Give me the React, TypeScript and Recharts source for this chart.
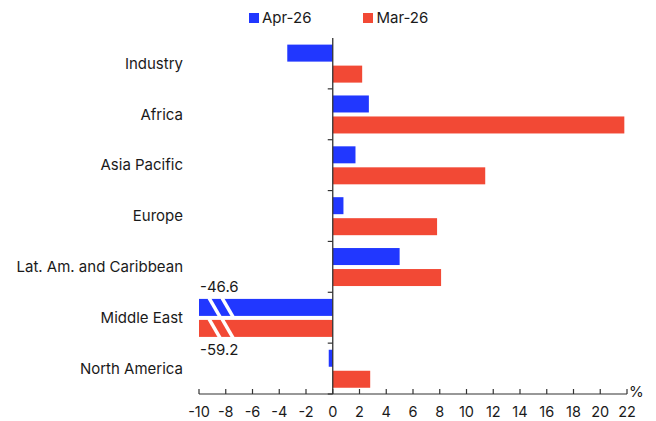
import React from 'react';
import { BarChart, Bar, XAxis, YAxis, Legend, ReferenceLine } from 'recharts';

const categories = ['Industry', 'Africa', 'Asia Pacific', 'Europe', 'Lat. Am. and Caribbean', 'Middle East', 'North America'];
const apr26 = [-3.4, 2.7, 1.7, 0.8, 5.0, -46.6, -0.3];
const mar26 = [2.2, 21.8, 11.4, 7.8, 8.1, -59.2, 2.8];
const xTicks = [-10, -8, -6, -4, -2, 0, 2, 4, 6, 8, 10, 12, 14, 16, 18, 20, 22];
const xDomain = [-10, 22];
const seriesNames = ['Apr-26', 'Mar-26'];

const BLUE = '#2137FF';
const RED = '#F24935';
const TEXT = '#1a1a1a';
const AXIS = '#333333';
const FONT = 'Inter, "Liberation Sans", Arial, sans-serif';
const FS = 15;

const data = categories.map((name, i) => ({ name, apr: apr26[i], mar: mar26[i] }));

const makeShape = (fill: string, labelAbove: boolean) => (props: any) => {
  const { x, y, width, height, background, value } = props;
  const raw = Array.isArray(value) ? value[1] : value;
  const a = Math.min(x, x + width);
  const b = Math.max(x, x + width);
  const plotLeft = background ? background.x : 199;
  const plotRight = background ? background.x + background.width : 627;
  const left = Math.max(a, plotLeft);
  const right = Math.min(b, plotRight);
  const clipped = a < plotLeft - 0.5;
  const top = y;
  const bot = y + height;
  return (
    <g>
      <rect x={left} y={top} width={Math.max(0, right - left)} height={height} fill={fill} />
      {clipped && (
        <g>
          <line x1={left + 10} y1={top - 1} x2={left + 21} y2={bot + 1} stroke="#fff" strokeWidth={3.5} />
          <line x1={left + 23} y1={top - 1} x2={left + 34} y2={bot + 1} stroke="#fff" strokeWidth={3.5} />
          <text
            x={left + 1}
            y={labelAbove ? top - 7 : bot + 18}
            fontSize={FS}
            fill={TEXT}
            fontFamily={FONT}
          >
            {String(raw)}
          </text>
        </g>
      )}
    </g>
  );
};

const ZeroAxis = (props: any) => {
  const { x1, y1, y2 } = props;
  const n = categories.length;
  const step = (y2 - y1) / n;
  const ticks = [];
  for (let i = 0; i < n; i++) {
    const yy = y1 + i * step;
    ticks.push(<line key={i} x1={x1 - 5} y1={yy} x2={x1} y2={yy} stroke={AXIS} strokeWidth={1.2} />);
  }
  return (
    <g>
      <line x1={x1} y1={y1} x2={x1} y2={y2} stroke={AXIS} strokeWidth={1.3} />
      {ticks}
    </g>
  );
};

const XTick = (props: any) => {
  const { x, y, payload } = props;
  return (
    <g>
      <line x1={x} y1={y} x2={x} y2={y - 5} stroke={AXIS} strokeWidth={1.2} />
      <text x={x} y={y + 23} textAnchor="middle" fontSize={14.5} fill={TEXT} fontFamily={FONT}>
        {payload.value}
      </text>
    </g>
  );
};

const LegendContent = () => {
  const colors = [BLUE, RED];
  return (
    <div style={{ display: 'flex', alignItems: 'center', fontFamily: FONT, fontSize: FS, color: TEXT }}>
      {seriesNames.map((s, i) => (
        <div key={s} style={{ display: 'flex', alignItems: 'center', marginRight: i === 0 ? 52 : 0 }}>
          <span style={{ width: 10, height: 10, background: colors[i], display: 'inline-block', marginRight: 3 }} />
          <span>{s}</span>
        </div>
      ))}
    </div>
  );
};

export default function App() {
  return (
    <div style={{ position: 'absolute', left: 0, top: 0, width: 656, height: 421, background: '#fff' }}>
      <BarChart
        width={656}
        height={421}
        data={data}
        layout="vertical"
        margin={{ top: 38, right: 29, bottom: 0, left: 0 }}
        barCategoryGap="13%"
        barGap={4}
        style={{ fontFamily: FONT }}
      >
        <XAxis
          type="number"
          domain={xDomain}
          allowDataOverflow
          ticks={xTicks}
          interval={0}
          height={27}
          tickSize={0}
          tickMargin={0}
          tickLine={false}
          axisLine={{ stroke: AXIS, strokeWidth: 1.2 }}
          tick={<XTick />}
          label={{
            content: (p: any) => {
              const vb = p.viewBox;
              return (
                <text x={vb.x + vb.width + 2} y={vb.y + 3} fontSize={FS} fill={TEXT} fontFamily={FONT}>
                  %
                </text>
              );
            },
          }}
        />
        <YAxis
          type="category"
          dataKey="name"
          width={199}
          tickLine={false}
          axisLine={false}
          tickSize={0}
          tickMargin={16}
          interval={0}
          tick={{ fontSize: FS, fill: TEXT, fontFamily: FONT }}
        />
        <Legend verticalAlign="middle" align="center" layout="horizontal" wrapperStyle={{ top: 8, left: 249, width: 260 }} content={<LegendContent />} />
        <Bar dataKey="apr" name={seriesNames[0]} fill={BLUE} isAnimationActive={false} shape={makeShape(BLUE, true)} />
        <Bar dataKey="mar" name={seriesNames[1]} fill={RED} isAnimationActive={false} shape={makeShape(RED, false)} />
        <ReferenceLine x={0} shape={ZeroAxis} ifOverflow="visible" />
      </BarChart>
    </div>
  );
}
